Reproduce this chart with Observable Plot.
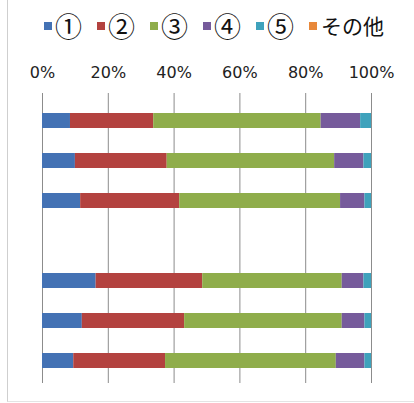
<!DOCTYPE html>
<html>
<head>
<meta charset="utf-8">
<script src="https://cdn.jsdelivr.net/npm/d3@7"></script>
<script src="https://cdn.jsdelivr.net/npm/@observablehq/plot@0.6"></script>
<style>
  html, body { margin: 0; padding: 0; background: #fff; }
  #wrap { position: relative; width: 414px; height: 403px; overflow: hidden; }
  #frame { position: absolute; left: 7px; top: 0; width: 420px; height: 401px;
           border-left: 1px solid #cfcfcf; border-bottom: 1px solid #e4e4e4; pointer-events: none; }
  #legend { height: 45px; display: flex; align-items: center; padding-left: 44px; gap: 15px;
            font-family: "Noto Sans CJK JP", sans-serif; font-size: 20px; color: #111; box-sizing: border-box; padding-top: 6px; }
  .item { display: flex; align-items: center; gap: 3px; }
  .sw { width: 8px; height: 8px; display: inline-block; }
  .circ { font-size: 27px; line-height: 1; }
  .txt { margin-left: 1px; font-size: 21px; line-height: 1; }
  svg { display: block; }
</style>
</head>
<body>
<div id="wrap">
  <div id="legend"></div>
  <div id="chart"></div>
  <div id="frame"></div>
</div>
<script>
// Series (legend) names and colours
const series = ["①", "②", "③", "④", "⑤", "その他"];
const colors = ["#4472B4", "#B3423F", "#8FAD4B", "#765B9B", "#3FA2BC", "#E8883A"];

// Rows (top to bottom); "gap" is an empty row between the two groups
const rows = ["r1", "r2", "r3", "gap", "r5", "r6", "r7"];

// Percentages per series, one value per row (gap row has none)
const s1 = [8.5, 10.0, 11.6, null, 16.3, 12.1, 9.5];
const s2 = [25.3, 27.9, 30.1, null, 32.4, 31.1, 27.9];
const s3 = [50.9, 50.9, 48.9, null, 42.4, 47.9, 51.9];
const s4 = [12.0, 8.9, 7.4, null, 6.6, 6.9, 8.7];
const s5 = [3.3, 2.3, 2.0, null, 2.3, 2.0, 2.0];
const s6 = [0, 0, 0, null, 0, 0, 0];

// Tick values for x axis
const ticks = [0, 20, 40, 60, 80, 100];

const seriesValues = [s1, s2, s3, s4, s5, s6];
const data = [];
rows.forEach((r, i) => {
  seriesValues.forEach((vals, k) => {
    if (vals[i] != null) data.push({row: r, series: series[k], value: vals[i]});
  });
});

// Legend
const legend = document.getElementById("legend");
series.forEach((s, k) => {
  const it = document.createElement("div");
  it.className = "item";
  const sw = document.createElement("span");
  sw.className = "sw";
  sw.style.background = colors[k];
  const lb = document.createElement("span");
  lb.textContent = s;
  lb.className = s.length === 1 ? "circ" : "txt";
  it.appendChild(sw);
  it.appendChild(lb);
  legend.appendChild(it);
});

const chart = Plot.plot({
  width: 414,
  height: 358,
  marginLeft: 42,
  marginRight: 43,
  marginTop: 48,
  marginBottom: 20,
  insetTop: 6,
  style: {fontFamily: "DejaVu Sans, sans-serif", fontSize: "16px", color: "#222", background: "transparent"},
  x: {domain: [0, 100], label: null},
  y: {domain: rows, paddingInner: 0.62, paddingOuter: 0.31, axis: null},
  color: {domain: series, range: colors},
  marks: [
    Plot.gridX(ticks, {stroke: "#8c8c8c", strokeOpacity: 1, strokeWidth: 1}),
    Plot.barX(data, Plot.stackX({x: "value", y: "row", fill: "series", order: series})),
    Plot.axisX(ticks, {anchor: "top", tickSize: 0, tickPadding: 16, tickFormat: d => d + "%", fill: "#222", label: null})
  ]
});
document.getElementById("chart").appendChild(chart);
</script>
</body>
</html>
